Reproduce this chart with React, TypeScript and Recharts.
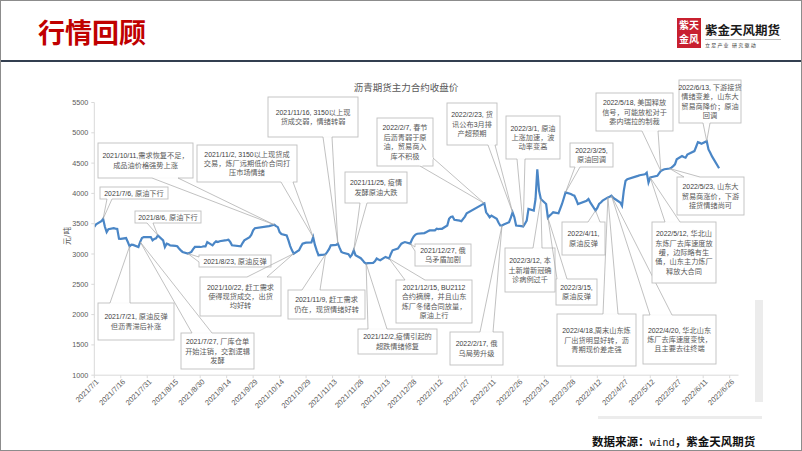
import React from 'react';
import { LineChart, Line, XAxis, YAxis, ReferenceDot } from 'recharts';

// ---------- data ----------
const dates: string[] = [
  '2021/7/1','2021/7/2','2021/7/5','2021/7/6','2021/7/7','2021/7/8','2021/7/9','2021/7/12','2021/7/13','2021/7/14','2021/7/15','2021/7/16','2021/7/19','2021/7/20','2021/7/21','2021/7/22','2021/7/23','2021/7/26','2021/7/27','2021/7/28','2021/7/29','2021/7/30',
  '2021/8/2','2021/8/3','2021/8/4','2021/8/5','2021/8/6','2021/8/9','2021/8/10','2021/8/11','2021/8/12','2021/8/13','2021/8/16','2021/8/17','2021/8/18','2021/8/19','2021/8/20','2021/8/23','2021/8/24','2021/8/25','2021/8/26','2021/8/27','2021/8/30','2021/8/31',
  '2021/9/1','2021/9/2','2021/9/3','2021/9/6','2021/9/7','2021/9/8','2021/9/9','2021/9/10','2021/9/13','2021/9/14','2021/9/15','2021/9/16','2021/9/17','2021/9/22','2021/9/23','2021/9/24','2021/9/27','2021/9/28','2021/9/29','2021/9/30',
  '2021/10/8','2021/10/11','2021/10/12','2021/10/13','2021/10/14','2021/10/15','2021/10/18','2021/10/19','2021/10/20','2021/10/21','2021/10/22','2021/10/25','2021/10/26','2021/10/27','2021/10/28','2021/10/29',
  '2021/11/1','2021/11/2','2021/11/3','2021/11/4','2021/11/5','2021/11/8','2021/11/9','2021/11/10','2021/11/11','2021/11/12','2021/11/15','2021/11/16','2021/11/17','2021/11/18','2021/11/19','2021/11/22','2021/11/23','2021/11/24','2021/11/25','2021/11/26','2021/11/29','2021/11/30',
  '2021/12/1','2021/12/2','2021/12/3','2021/12/6','2021/12/7','2021/12/8','2021/12/9','2021/12/10','2021/12/13','2021/12/14','2021/12/15','2021/12/16','2021/12/17','2021/12/20','2021/12/21','2021/12/22','2021/12/23','2021/12/24','2021/12/27','2021/12/28','2021/12/29','2021/12/30','2021/12/31',
  '2022/1/4','2022/1/5','2022/1/6','2022/1/7','2022/1/10','2022/1/11','2022/1/12','2022/1/13','2022/1/14','2022/1/17','2022/1/18','2022/1/19','2022/1/20','2022/1/21','2022/1/24','2022/1/25','2022/1/26','2022/1/27','2022/1/28',
  '2022/2/7','2022/2/8','2022/2/9','2022/2/10','2022/2/11','2022/2/14','2022/2/15','2022/2/16','2022/2/17','2022/2/18','2022/2/21','2022/2/22','2022/2/23','2022/2/24','2022/2/25','2022/2/28',
  '2022/3/1','2022/3/2','2022/3/3','2022/3/4','2022/3/7','2022/3/8','2022/3/9','2022/3/10','2022/3/11','2022/3/14','2022/3/15','2022/3/16','2022/3/17','2022/3/18','2022/3/21','2022/3/22','2022/3/23','2022/3/24','2022/3/25','2022/3/28','2022/3/29','2022/3/30','2022/3/31',
  '2022/4/1','2022/4/6','2022/4/7','2022/4/8','2022/4/11','2022/4/12','2022/4/13','2022/4/14','2022/4/15','2022/4/18','2022/4/19','2022/4/20','2022/4/21','2022/4/22','2022/4/25','2022/4/26','2022/4/27','2022/4/28','2022/4/29',
  '2022/5/5','2022/5/6','2022/5/9','2022/5/10','2022/5/11','2022/5/12','2022/5/13','2022/5/16','2022/5/17','2022/5/18','2022/5/19','2022/5/20','2022/5/23','2022/5/24','2022/5/25','2022/5/26','2022/5/27','2022/5/30','2022/5/31',
  '2022/6/1','2022/6/2','2022/6/6','2022/6/7','2022/6/8','2022/6/9','2022/6/10','2022/6/13','2022/6/14','2022/6/15','2022/6/16','2022/6/17','2022/6/20',
];

const closes: number[] = [
  3450,3490,3540,3580,3450,3361,3410,3426,3420,3415,3253,3250,3263,3197,3127,3155,3150,3116,3200,3263,3279,3280,
  3279,3225,3250,3260,3307,3225,3116,3171,3160,3143,3135,3127,3090,3060,3034,3007,3020,3034,3080,3116,3116,3120,
  3127,3127,3197,3143,3180,3209,3197,3210,3225,3230,3236,3200,3143,3127,3180,3225,3279,3318,3389,3426,
  3460,3482,3460,3443,3361,3330,3307,3225,3130,3061,3007,3061,3120,3171,3180,3187,
  3190,3279,3150,3061,2980,2990,2995,3034,3080,3143,3150,3171,3100,3034,3020,2996,2952,2990,3061,2980,2930,2898,
  2860,2843,2850,2854,2880,2925,2910,2898,2952,2940,2925,3000,3061,3089,3130,3171,3185,3197,3171,3240,3290,3320,3334,
  3345,3360,3375,3389,3389,3416,3410,3416,3416,3470,3580,3610,3618,3564,3550,3541,3580,3618,3672,
  3835,3688,3650,3607,3634,3580,3520,3470,3470,3487,3524,3600,3688,3607,3470,3460,
  3454,3500,3552,3744,3716,3907,4398,4043,3907,3825,3600,3634,3660,3688,3672,3750,3825,3920,4017,3989,3975,3962,3900,
  3825,3880,3907,3852,3716,3760,3825,3850,3880,3934,3945,3962,3930,3907,3850,3798,4043,4207,4234,
  4289,4300,4316,4343,4180,4262,4270,4289,4330,4371,4385,4398,4410,4425,4450,4480,4562,4616,4600,
  4589,4640,4698,4770,4845,4834,4818,4862,4725,4670,4610,4562,4414,
];

const xTickLabels: string[] = [
  '2021/7/1','2021/7/16','2021/7/31','2021/8/15','2021/8/30','2021/9/14','2021/9/29','2021/10/14','2021/10/29',
  '2021/11/13','2021/11/28','2021/12/13','2021/12/28','2022/1/12','2022/1/27','2022/2/11','2022/2/26','2022/3/13',
  '2022/3/28','2022/4/12','2022/4/27','2022/5/12','2022/5/27','2022/6/11','2022/6/26',
];
const xDomainLabels: string[] = ['2021/7/1', '2022/7/1'];
const yTicks: number[] = [1000, 1500, 2000, 2500, 3000, 3500, 4000, 4500, 5000, 5500];

const chartTitle = '沥青期货主力合约收盘价';
const yUnit = '元/吨';

// annotation texts (at = date of the point the callout refers to)
const noteDates: string[] = [
  '2021/7/6','2021/7/21','2021/7/27','2021/8/6','2021/8/23','2021/10/11','2021/10/22','2021/11/2','2021/11/9','2021/11/16',
  '2021/11/25','2021/12/2','2021/12/15','2021/12/27','2022/2/7','2022/2/17','2022/2/23','2022/3/1','2022/3/11','2022/3/15',
  '2022/3/25','2022/4/11','2022/4/18','2022/4/20','2022/5/12','2022/5/18','2022/5/23','2022/6/13',
];
const noteTexts: string[][] = [
  ['2021/7/6, 原油下行'],
  ['2021/7/21, 原油反弹', '但沥青滞后补涨'],
  ['2021/7/27, 厂库仓单', '开始注销，交割逻辑', '发酵'],
  ['2021/8/6, 原油下行'],
  ['2021/8/23, 原油反弹'],
  ['2021/10/11,需求恢复不足，', '成品油价格强势上涨'],
  ['2021/10/22, 赶工需求', '使得现货成交，出货', '均好转'],
  ['2021/11/2, 3150以上现货成', '交易，炼厂远期低价合同打', '压市场情绪'],
  ['2021/11/9, 赶工需求', '仍在，现货情绪好转'],
  ['2021/11/16, 3150以上现', '货成交弱，情绪转弱'],
  ['2021/11/25, 疫情', '发酵原油大跌'],
  ['2021/12/2,疫情引起的', '超跌情绪修复'],
  ['2021/12/15, BU2112', '合约摘牌，并且山东', '炼厂冬储合同放量，', '原油上行'],
  ['2021/12/27, 俄', '乌矛盾加剧'],
  ['2022/2/7, 春节', '后沥青弱于原', '油，贸易商入', '库不积极'],
  ['2022/2/17, 俄', '乌局势升级'],
  ['2022/2/23, 货', '讯公布3月排', '产超预期'],
  ['2022/3/1, 原油', '上涨加速，波', '动率变高'],
  ['2022/3/12, 本', '土新增新冠确', '诊病例过千'],
  ['2022/3/15,', '原油反弹'],
  ['2022/3/25,', '原油回调'],
  ['2022/4/11,', '原油反弹'],
  ['2022/4/18,周末山东炼', '厂出货明显好转，沥', '青期现价差走强'],
  ['2022/4/20, 华北山东', '炼厂去库速度变快，', '且主要去往终端'],
  ['2022/5/12, 华北山', '东炼厂去库速度放', '缓，边际略有生', '俑，山东主力炼厂', '释放大合同'],
  ['2022/5/18, 美国释放', '信号，可能放松对于', '委内瑞拉的制裁'],
  ['2022/5/23, 山东大', '贸易商涨价，下游', '接货情绪尚可'],
  ['2022/6/13, 下游接货', '情绪变差，山东大', '贸易商降价；原油', '回调'],
];

// ---------- layout (pixels) ----------
// [boxX, boxY, boxW, boxH, baseX1, baseY1, baseX2, baseY2]
const noteLayout: number[][] = [
  [100, 187, 68, 12, 107, 199, 112, 199],
  [98, 303, 76, 37, 110, 303, 130, 303],
  [181, 333, 73, 36, 192, 333, 212, 333],
  [135, 211, 66, 12, 147, 223, 153, 223],
  [199, 255, 72, 12, 199, 257, 199, 262],
  [98, 143, 95, 35, 152, 178, 178, 178],
  [200, 277, 81, 39, 247, 277, 267, 277],
  [197, 145, 100, 37, 281, 182, 293, 182],
  [288, 290, 77, 29, 302, 290, 320, 290],
  [268, 97, 90, 40, 323, 137, 332, 137],
  [345, 172, 62, 31, 360, 203, 367, 203],
  [358, 329, 79, 25, 368, 329, 387, 329],
  [396, 280, 76, 43, 405, 280, 425, 280],
  [415, 244, 56, 22, 415, 247, 415, 251],
  [377, 118, 56, 48, 420, 166, 433, 158],
  [450, 332, 53, 33, 480, 332, 493, 332],
  [447, 103, 50, 42, 488, 145, 495, 145],
  [506, 116, 54, 43, 517, 159, 525, 159],
  [505, 248, 50, 44, 533, 248, 542, 248],
  [556, 279, 41, 26, 557, 279, 567, 279],
  [570, 143, 43, 24, 575, 167, 580, 167],
  [562, 222, 43, 33, 588, 222, 600, 222],
  [557, 314, 79, 52, 603, 314, 618, 314],
  [643, 315, 73, 49, 650, 315, 672, 315],
  [652, 222, 64, 61, 665, 222, 680, 222],
  [596, 93, 77, 38, 642, 131, 658, 131],
  [677, 177, 67, 38, 684, 177, 700, 177],
  [679, 80, 62, 43, 703, 123, 710, 123],
];

const CJK = '"Noto Sans CJK SC", sans-serif';
const LAT = '"Liberation Sans", Arial, sans-serif';

const BASE = Date.UTC(2021, 6, 1);
function toDay(s: string): number {
  const [y, m, d] = s.split('/').map(Number);
  return Math.round((Date.UTC(y, m - 1, d) - BASE) / 86400000);
}

const tableData = dates.map((d, i) => ({ t: toDay(d), v: closes[i], label: d }));
const xTicks = xTickLabels.map(toDay);
const tickLabelByDay: Record<number, string> = {};
xTickLabels.forEach((s) => { tickLabelByDay[toDay(s)] = s; });
const valueByDate: Record<string, number> = {};
dates.forEach((d, i) => { valueByDate[d] = closes[i]; });

function runs(s: string) {
  const parts: { t: string; cjk: boolean }[] = [];
  for (const ch of s) {
    const cjk = ch.charCodeAt(0) > 255;
    const last = parts[parts.length - 1];
    if (last && last.cjk === cjk) last.t += ch;
    else parts.push({ t: ch, cjk });
  }
  return parts.map((p, i) => (
    <tspan key={i} fontFamily={p.cjk ? CJK : LAT} fontSize={p.cjk ? 7.2 : 6.9} fill={p.cjk ? '#5a5a5a' : '#3c3c3c'}>
      {p.t}
    </tspan>
  ));
}

function Callout(props: any) {
  const { cx, cy, layout, lines } = props;
  if (cx == null || cy == null) return null;
  const [x, y, w, h, bx1, by1, bx2, by2] = layout;
  const lh = 9.4;
  const n = lines.length;
  const start = y + (h - n * lh) / 2;
  return (
    <g>
      <rect x={x} y={y} width={w} height={h} fill="#ffffff" stroke="#bfbfbf" strokeWidth={0.9} />
      <line x1={bx1} y1={by1} x2={bx2} y2={by2} stroke="#ffffff" strokeWidth={1.8} />
      <polyline points={`${bx1},${by1} ${cx},${cy} ${bx2},${by2}`} fill="none" stroke="#a6a6a6" strokeWidth={0.7} />
      {lines.map((ln: string, i: number) => (
        <text key={i} x={x + w / 2} y={start + i * lh + lh / 2 + 2.5} textAnchor="middle">
          {runs(ln)}
        </text>
      ))}
    </g>
  );
}

function XTick(props: any) {
  const { x, y, payload } = props;
  const label = tickLabelByDay[payload.value] ?? '';
  return (
    <text
      transform={`translate(${x + 5},${y + 2}) rotate(-45)`}
      textAnchor="end"
      fontFamily={LAT}
      fontSize={7.5}
      fill="#595959"
    >
      {label}
    </text>
  );
}

export default function App() {
  return (
    <div style={{ position: 'absolute', left: 0, top: 0, width: 802, height: 451, background: '#ffffff', overflow: 'hidden' }}>
      {/* header */}
      <div style={{ position: 'absolute', left: 38, top: 17, fontFamily: CJK, fontWeight: 700, fontSize: 27, lineHeight: '30px', color: '#C00000', letterSpacing: 0 }}>
        行情回顾
      </div>
      <div style={{ position: 'absolute', left: 0, top: 60, width: 802, height: 2, background: '#333f50' }} />
      {/* logo */}
      <div style={{ position: 'absolute', left: 677, top: 18, width: 24, height: 30, background: '#c8202f', color: '#fff', fontFamily: CJK, fontSize: 10, lineHeight: '14px', textAlign: 'center', fontWeight: 700 }}>
        <div>紫天</div>
        <div>金风</div>
      </div>
      <div style={{ position: 'absolute', left: 705, top: 22, fontFamily: CJK, fontWeight: 700, fontSize: 12.5, lineHeight: '16px', color: '#1a1a1a' }}>
        紫金天风期货
      </div>
      <div style={{ position: 'absolute', left: 705, top: 39, width: 76, height: 1, background: '#bfbfbf' }} />
      <div style={{ position: 'absolute', left: 705, top: 41, fontFamily: CJK, fontSize: 5, lineHeight: '7px', color: '#333', letterSpacing: 1.2 }}>
        立足产业 研究驱动
      </div>
      {/* decoration */}
      <div style={{ position: 'absolute', left: 755, top: 300, width: 8, height: 102, background: '#ececec' }} />
      <div style={{ position: 'absolute', left: 598, top: 416, width: 164, height: 3, background: '#ececec' }} />
      {/* footer */}
      <div style={{ position: 'absolute', left: 592, top: 434, fontFamily: CJK, fontSize: 11.5, lineHeight: '14px', color: '#111', fontWeight: 700, whiteSpace: 'nowrap' }}>
        数据来源：<span style={{ fontFamily: '"DejaVu Sans Mono", monospace', fontWeight: 400, fontSize: 10.5 }}>wind</span>，紫金天风期货
      </div>

      {/* chart */}
      <div style={{ position: 'absolute', left: 0, top: 0 }}>
        <LineChart width={802} height={451} data={tableData} margin={{ top: 102.5, right: 63.5, bottom: 0, left: 0 }}>
          <XAxis
            dataKey="t"
            type="number"
            domain={[toDay(xDomainLabels[0]), toDay(xDomainLabels[1])]}
            ticks={xTicks}
            interval={0}
            height={75.8}
            tickSize={3}
            tickMargin={2}
            axisLine={{ stroke: '#d9d9d9' }}
            tickLine={{ stroke: '#d9d9d9' }}
            tick={<XTick />}
            allowDataOverflow
          />
          <YAxis
            type="number"
            domain={[1000, 5500]}
            ticks={yTicks}
            interval={0}
            width={94.3}
            tickSize={3}
            tickMargin={3}
            axisLine={{ stroke: '#d9d9d9' }}
            tickLine={{ stroke: '#d9d9d9' }}
            tick={{ fontFamily: LAT, fontSize: 7.2, fill: '#595959' }}
            allowDataOverflow
          />
          <Line
            type="linear"
            dataKey="v"
            stroke="#4a86c6"
            strokeWidth={2.2}
            dot={false}
            activeDot={false}
            isAnimationActive={false}
          />
          {noteDates.map((d, i) => (
            <ReferenceDot
              key={i}
              x={toDay(d)}
              y={valueByDate[d]}
              r={0}
              ifOverflow="visible"
              zIndex={3000}
              shape={(p: any) => <Callout cx={p.cx} cy={p.cy} layout={noteLayout[i]} lines={noteTexts[i]} />}
            />
          ))}
        </LineChart>
      </div>

      {/* chart title & unit */}
      <svg width={802} height={451} style={{ position: 'absolute', left: 0, top: 0, pointerEvents: 'none' }}>
        <text x={406} y={91} textAnchor="middle" fontFamily={CJK} fontSize={9.5} fill="#595959">{chartTitle}</text>
        <text transform="translate(70,236) rotate(-90)" textAnchor="middle" fontFamily={CJK} fontSize={7.5} fill="#595959">{yUnit}</text>
      </svg>
      {/* frame */}
      <div style={{ position: 'absolute', left: 0, top: 0, width: 802, height: 451, boxSizing: 'border-box', border: '1px solid #8c8c8c', pointerEvents: 'none' }} />
    </div>
  );
}
